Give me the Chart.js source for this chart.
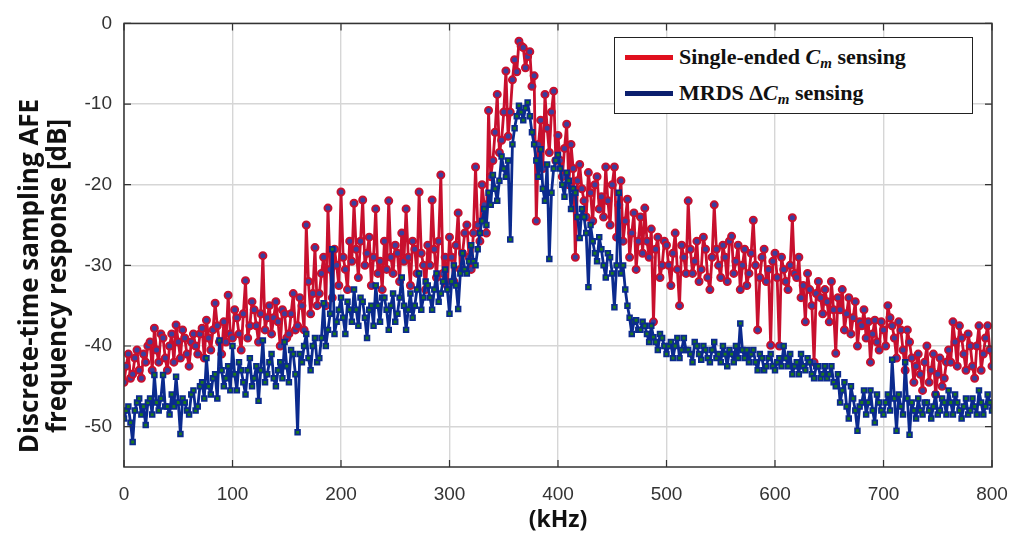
<!DOCTYPE html>
<html>
<head>
<meta charset="utf-8">
<script src="https://cdn.jsdelivr.net/npm/chart.js@4.4.1/dist/chart.umd.min.js"></script>
<style>
  body { margin: 0; background: #fff; }
  #wrap { position: relative; width: 1026px; height: 534px; }
  #legend {
    position: absolute; left: 614px; top: 37px; width: 359px; height: 77px;
    border: 1.5px solid #222; background: #fff; box-sizing: border-box;
    font-family: 'Liberation Serif', 'Times New Roman', serif; font-weight: bold; font-size: 22px; color: #111;
  }
  #legend .row { position: absolute; left: 0; height: 30px; line-height: 30px; white-space: nowrap; }
  #legend .swatch { position: absolute; left: 10px; top: 13px; width: 48px; height: 5px; }
  #legend .txt { position: absolute; left: 64px; top: 0; }
  #legend sub { font-size: 15px; vertical-align: -4px; line-height: 0; }
  #ytitle {
    position: absolute; left: -168px; top: 248px; width: 420px; height: 56px;
    transform: rotate(-90deg); text-align: center; white-space: nowrap;
    font-family: 'Open Sans', sans-serif; font-weight: bold; font-size: 26px; line-height: 28px; color: #111;
  }
</style>
</head>
<body>
<div id="wrap">
  <canvas id="afeChart" width="1026" height="534"></canvas>
  <div id="ytitle">Discrete-time sampling AFE<br>frequency response [dB]</div>
  <div id="legend">
    <div class="row" style="top:4px"><span class="swatch" style="background:#e0101e"></span><span class="txt">Single-ended <i>C<sub>m</sub></i> sensing</span></div>
    <div class="row" style="top:40px"><span class="swatch" style="background:#0b1f6e"></span><span class="txt">MRDS &Delta;<i>C<sub>m</sub></i> sensing</span></div>
  </div>
</div>
<script>
// frequency axis, sampled every 2 kHz from 0 to 800 kHz
var freqStepKHz = 2;

// Single-ended Cm sensing [dB], 20 kHz per row
var singleEnded = [
  -44.5, -42.5, -41, -44, -43.5, -41.5, -40.5, -43, -44, -41,
  -42, -40, -39.5, -43, -37.8, -40.5, -42, -38.5, -39, -41.5,
  -43, -40, -38.5, -42, -37.4, -39.5, -41.5, -38, -39, -41,
  -42.5, -39.5, -38.5, -40, -41, -38.5, -37.8, -41.5, -36.8, -39,
  -40.5, -38, -34.7, -37.5, -39.5, -41, -37, -39.5, -33.7, -38.5,
  -39, -35.5, -36.5, -38.5, -40.5, -36, -31.9, -39, -37.5, -34.5,
  -35.5, -37.5, -39.5, -36, -28.8, -38, -36.5, -35, -38.5, -36.5,
  -34.5, -37, -40, -35.5, -36, -39, -38.5, -36, -33.5, -38,
  -37.5, -34, -35, -38, -25, -32, -36, -33.5, -27.8, -35,
  -33.5, -31, -29, -35, -22.9, -30.5, -34, -28, -30, -32.5,
  -20.9, -29, -30.5, -33, -27, -29.5, -22.3, -28, -31.5, -27,
  -21.9, -30, -28.5, -26.5, -32.5, -29, -23, -31, -29.5, -33,
  -27, -30.5, -22, -29, -31, -27.5, -28.5, -32, -26, -29.5,
  -23, -29, -32.5, -27, -28, -31, -20.9, -28.5, -30, -33,
  -27.5, -30, -21.9, -28, -31.5, -27, -18.8, -31, -29, -32.5,
  -26.5, -29, -32, -27.5, -23.5, -30.5, -28.5, -26, -25, -29,
  -30.5, -26, -17.8, -25, -27, -20, -22.5, -26, -10.8, -19,
  -17, -13.5, -8.8, -16, -14.5, -11, -5.9, -14, -11, -7,
  -4.5, -6, -2.2, -2.8, -3, -5.5, -4.1, -3.5, -7.8, -6.5,
  -24.5, -15, -12, -18, -8.8, -13, -16, -11, -8.4, -17,
  -13.9, -17, -19, -15.5, -12.5, -20, -15, -18, -29, -19.5,
  -17.5, -20.5, -22, -24, -18.5, -21, -24.5, -20, -19, -23,
  -21.5, -24, -17.8, -22, -25, -20, -17.8, -26.5, -22.5, -19.5,
  -27, -24.5, -21.8, -29, -26, -23.5, -30.5, -27, -24, -28.5,
  -22.9, -27, -29, -25.5, -37, -28, -26.5, -31.5, -30, -27,
  -27.5, -30, -32.5, -28.5, -26, -30.5, -35, -27.5, -29, -31,
  -22, -28, -31, -29.5, -27, -32, -30.5, -26.5, -28, -31.5,
  -33, -29, -22.5, -28, -30, -31.5, -27.5, -29, -32, -27,
  -26.4, -31, -29.5, -27.5, -33, -30, -28, -32.5, -31, -28.5,
  -24.4, -30, -38, -31.5, -29, -28, -32, -30.5, -39.9, -29.5,
  -28.5, -31.5, -40, -29, -30.5, -32, -33, -30, -24.1, -31,
  -31.5, -29, -34, -32.5, -37, -31, -33, -35, -42, -33.5,
  -32, -34, -36, -33, -34.5, -37, -32, -35.5, -40.9, -34,
  -35.5, -33, -38, -36, -34, -38.5, -36.5, -34.5, -40, -37,
  -37.5, -35.5, -39, -37, -42, -38.5, -36.8, -39.5, -40.5, -37,
  -38, -40, -35, -36.5, -37.5, -39, -41.5, -37, -38, -40.5,
  -43, -38, -39.5, -41.5, -44.5, -42.5, -41, -43.5, -45.5, -42,
  -40, -44.5, -43, -41, -46, -43.5, -41.5, -45, -44, -42,
  -40.5, -42, -37, -39.5, -42.5, -37.5, -39, -41, -43, -38.5,
  -40, -42.5, -44, -40, -37.5, -43, -41, -39, -37.5, -40.5,
  -42.5
];

// MRDS delta-Cm sensing [dB], 20 kHz per row
var mrds = [
  -49, -48, -47.5, -49.5, -51.9, -48, -47, -46.5, -48.5, -47.5,
  -49.8, -47, -46.5, -48.5, -43.6, -47, -48, -46.5, -43.6, -47.5,
  -47.5, -48.5, -46, -47.5, -43.8, -47, -50.9, -46.5, -47, -48,
  -48.5, -46, -45.5, -48, -47.5, -45, -44.5, -46.5, -41.5, -45,
  -46, -44, -43.5, -46.5, -39.3, -43, -45, -44, -42.5, -45.5,
  -40, -43.5, -45.5, -42, -43, -44.5, -46, -43, -41.5, -45,
  -44, -42.5, -46.8, -43, -39.3, -44.5, -43.5, -42, -41, -44,
  -45, -43, -42, -44, -39.5, -42.5, -44.5, -40.5, -41, -43.5,
  -50.7, -41, -42, -40, -38.5, -41.5, -43, -40, -39, -42,
  -41.5, -39, -34.7, -40, -38, -36, -28, -38.5, -37, -35.5,
  -34, -36.5, -38.5, -34.5, -35.5, -37, -33, -35.5, -37.5, -34,
  -34.5, -36.5, -39, -35.5, -35, -37.5, -32.5, -35, -37, -34,
  -34, -35.5, -38, -35, -33.5, -37, -36, -34, -31.5, -35,
  -38, -35.5, -33.5, -36.5, -35, -33, -31, -35.5, -34, -32,
  -32.5, -34, -35.5, -33, -31, -34.5, -33.5, -32, -30.5, -33,
  -36, -32, -30, -32.5, -35.4, -31, -28.5, -30.5, -31, -29.5,
  -27.5, -29.5, -30, -28, -26, -24.5, -23, -25, -21, -22.5,
  -18.8, -20.5, -22, -19.5, -16.5, -18, -19, -17, -26.8, -15,
  -13, -11.5, -10.2, -11, -12, -10.5, -9.8, -11.5, -13.5, -15,
  -17, -19, -15.6, -20.5, -22, -17.5, -29.2, -21, -18, -17,
  -16.3, -18, -20, -21.5, -18.5, -19.5, -23, -20.5, -21, -24,
  -26.6, -23, -24, -26, -32.7, -25, -27, -28.5, -29.5, -26.5,
  -28, -30, -31.5, -28.5, -29, -31, -35.2, -30, -21, -31,
  -30, -33, -35, -36.5, -38.5, -37, -36.8, -38, -38, -37,
  -37.5, -38.5, -39.5, -37.5, -38.9, -39.5, -40.5, -38.5, -39, -40,
  -41, -40, -39.5, -41.5, -40, -39, -41.5, -40.5, -39, -40.5,
  -40.5, -41, -42, -39.5, -40, -41, -41.7, -40, -40.5, -41.5,
  -42, -40.5, -39.5, -41.5, -41, -42, -40, -41, -42.5, -40.5,
  -41, -42, -40, -41.5, -37.2, -40.5, -41.5, -40.5, -42, -41,
  -40.5, -42, -43, -41, -41.5, -43, -42.5, -41.5, -41, -42.5,
  -43, -42, -41.5, -42.5, -40, -41.5, -42.5, -41, -43.5, -42.5,
  -42, -43.5, -41, -42.5, -43, -41.5, -42, -43.5, -44, -42.5,
  -42.5, -44, -43.5, -42.5, -44, -43.5, -42.5, -44.5, -45, -43.5,
  -47, -45.5, -44.5, -47.5, -49, -45, -46.5, -48, -50.5, -47.5,
  -47, -45.5, -48.5, -47, -45.5, -48, -49.5, -46, -47, -48,
  -48.5, -47, -46, -48, -41.7, -46.5, -50.5, -46, -47.5, -48.5,
  -42, -46.5, -51, -47, -48, -49, -46.5, -48, -48.5, -47,
  -47, -48, -49, -47.5, -46, -48.5, -48, -46.5, -47, -48.5,
  -45.5, -47, -48.5, -46, -47, -48, -49, -47.5, -46.5, -48.5,
  -48, -46.5, -47.5, -48.5, -45.5, -47, -48.5, -47.5, -46, -47,
  -48
];

var xTicks = [0, 100, 200, 300, 400, 500, 600, 700, 800];
var yTicks = [-50, -40, -30, -20, -10, 0];

function toPoints(values) {
  return values.map(function(v, i) { return { x: i * freqStepKHz, y: v }; });
}

// MATLAB style box with inward ticks
var boxPlugin = {
  id: 'box',
  afterDraw: function(chart) {
    var ctx = chart.ctx, a = chart.chartArea;
    var xs = chart.scales.x, ys = chart.scales.y;
    ctx.save();
    ctx.strokeStyle = '#333';
    ctx.lineWidth = 1.5;
    ctx.strokeRect(a.left, a.top, a.right - a.left, a.bottom - a.top);
    ctx.lineWidth = 1.2;
    ctx.beginPath();
    xTicks.forEach(function(t) {
      var px = xs.getPixelForValue(t);
      ctx.moveTo(px, a.bottom); ctx.lineTo(px, a.bottom - 7);
      ctx.moveTo(px, a.top); ctx.lineTo(px, a.top + 7);
    });
    yTicks.forEach(function(t) {
      var py = ys.getPixelForValue(t);
      ctx.moveTo(a.left, py); ctx.lineTo(a.left + 7, py);
      ctx.moveTo(a.right, py); ctx.lineTo(a.right - 7, py);
    });
    ctx.stroke();
    ctx.restore();
  }
};

var ctx = document.getElementById('afeChart').getContext('2d');
var afeChart = new Chart(ctx, {
  type: 'line',
  data: {
    datasets: [{
      label: 'Single-ended Cm sensing',
      data: toPoints(singleEnded),
      borderColor: '#c8102e',
      borderWidth: 2.8,
      borderJoinStyle: 'round',
      pointStyle: 'circle',
      pointRadius: 3.5,
      pointBorderWidth: 2,
      pointBorderColor: '#c8102e',
      pointBackgroundColor: '#3a3f9e',
      order: 2
    }, {
      label: 'MRDS ΔCm sensing',
      data: toPoints(mrds),
      borderColor: '#0b2a8e',
      borderWidth: 2.8,
      borderJoinStyle: 'round',
      pointStyle: 'rect',
      pointRadius: 3.3,
      pointBorderWidth: 1.8,
      pointBorderColor: '#0b2a8e',
      pointBackgroundColor: '#1c7a1c',
      order: 1
    }]
  },
  plugins: [boxPlugin],
  options: {
    responsive: false,
    animation: false,
    layout: { padding: { top: 20, right: 34, left: 0, bottom: 0 } },
    plugins: {
      legend: { display: false },
      tooltip: { enabled: false }
    },
    scales: {
      x: {
        type: 'linear',
        min: 0, max: 800,
        afterBuildTicks: function(axis) { axis.ticks = xTicks.map(function(v) { return { value: v }; }); },
        afterFit: function(axis) { axis.height = 67; },
        grid: { color: '#d6d6d6', lineWidth: 1.4, drawTicks: false },
        border: { display: false },
        ticks: { padding: 16, color: '#333', font: { family: 'Liberation Sans', size: 19 } },
        title: {
          display: true, text: '(kHz)', color: '#111',
          font: { family: 'Open Sans', size: 23, weight: 'bold' },
          padding: { top: 0, bottom: 0 }
        }
      },
      y: {
        min: -55, max: 0,
        afterBuildTicks: function(axis) { axis.ticks = yTicks.map(function(v) { return { value: v }; }); },
        afterFit: function(axis) { axis.width = 124; },
        grid: { color: '#d6d6d6', lineWidth: 1.4, drawTicks: false },
        border: { display: false },
        ticks: { padding: 12, color: '#333', font: { family: 'Liberation Sans', size: 19 } }
      }
    }
  }
});
</script>
</body>
</html>
